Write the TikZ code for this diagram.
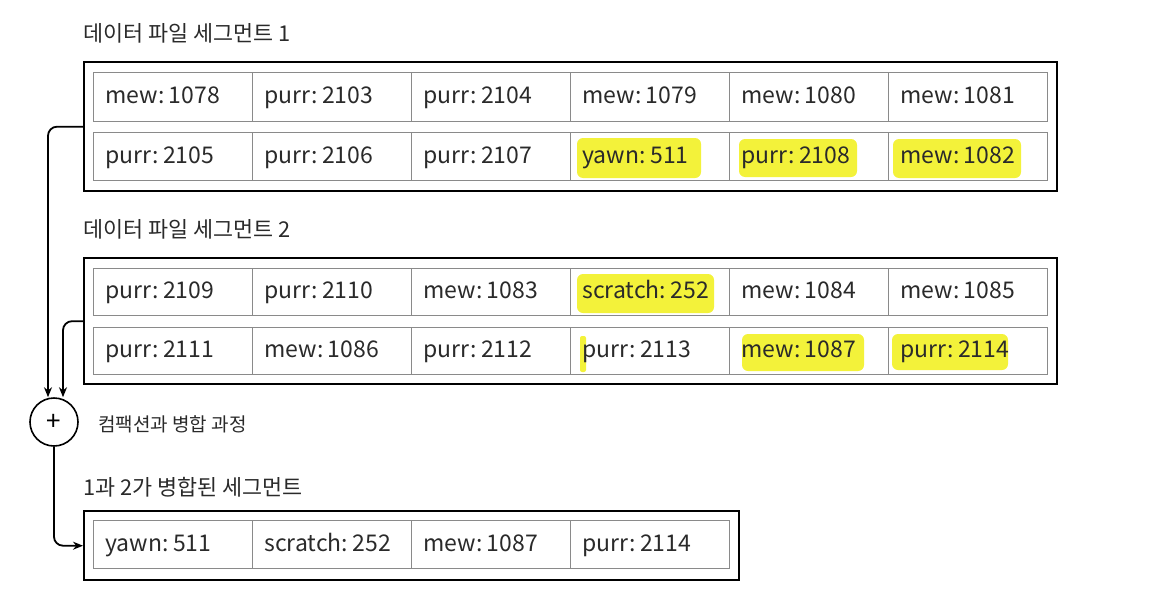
\documentclass[tikz,border=0pt]{standalone}
\usepackage{fontspec}
\setmainfont{Noto Sans CJK KR}
\usetikzlibrary{arrows.meta}

\definecolor{marker}{HTML}{F3F23A}
\definecolor{cellrule}{HTML}{8A8A8A}
\definecolor{ink}{HTML}{2A2A2A}

% key/value entry with a tight gap after the colon
\newcommand\kv[2]{#1:\kern4.5pt#2}

\tikzset{
  cell/.style={draw=cellrule, line width=0.9pt, anchor=north west,
    minimum width=159pt, text width=135pt, inner xsep=12pt, inner ysep=0pt,
    text height=17pt, text depth=3pt,
    align=left, text=ink, font=\fontsize{23}{26}\selectfont},
  segbox/.style={draw=black, line width=2.4pt, anchor=north west, inner sep=0pt},
  title/.style={anchor=base west, inner sep=0pt, text=ink, font=\fontsize{21.8}{24}\selectfont},
  note/.style={anchor=west, inner sep=0pt, text=ink, font=\fontsize{19}{22}\selectfont},
  merge/.style={circle, draw=black, line width=1.6pt, minimum size=48pt, inner sep=0pt,
    font=\fontsize{26}{26}\selectfont},
  flow/.style={draw=black, line width=1.8pt, rounded corners=9pt, -{Stealth[length=10pt,width=8pt]}},
  hl/.style={fill=marker, draw=none, rounded corners=6pt}
}

\begin{document}
\begin{tikzpicture}[x=1pt, y=-1pt]
  \useasboundingbox (0,0) rectangle (1166,608);

  % marker strokes behind the entries that survive the merge
  \fill[hl] (577,138) rectangle (701,178);
  \fill[hl] (739,139) rectangle (857,177);
  \fill[hl] (893,139) rectangle (1021,178);
  \fill[hl] (577,274) rectangle (714,313);
  \fill[hl] (742,334) rectangle (864,371);
  \fill[hl] (892,334) rectangle (1008,370);
  \fill[hl, rounded corners=2pt] (580,336) rectangle (586,372);

  % segment 1
  \node[title] (t1) at (83,41) {데이터 파일 세그먼트 1};
  \node[segbox, minimum width=973pt, minimum height=129pt] (seg1) at (83,61) {};
  \foreach \k/\v [count=\i from 0] in {mew/1078, purr/2103, purr/2104, mew/1079, mew/1080, mew/1081}
    \node[cell, minimum height=48.5pt] (s1a\i) at ({93+159*\i},72) {\kv{\k}{\v}};
  \foreach \k/\v [count=\i from 0] in {purr/2105, purr/2106, purr/2107, yawn/511, purr/2108, mew/1082}
    \node[cell, minimum height=48.5pt] (s1b\i) at ({93+159*\i},131.5) {\kv{\k}{\v}};

  % segment 2
  \node[title] (t2) at (83,237) {데이터 파일 세그먼트 2};
  \node[segbox, minimum width=973pt, minimum height=126pt] (seg2) at (83,257) {};
  \foreach \k/\v [count=\i from 0] in {purr/2109, purr/2110, mew/1083, scratch/252, mew/1084, mew/1085}
    \node[cell, minimum height=47pt] (s2a\i) at ({93+159*\i},268) {\kv{\k}{\v}};
  \foreach \k/\v [count=\i from 0] in {purr/2111, mew/1086, purr/2112, purr/2113, mew/1087, purr/2114}
    \node[cell, minimum height=47pt] (s2b\i) at ({93+159*\i},326.5) {\kv{\k}{\v}};

  % compaction and merge step
  \node[merge] (mrg) at (54,422) {+};
  \node[note] (mlabel) at (98,424) {컴팩션과 병합 과정};

  % merged segment
  \node[title] (t3) at (83,495) {1과 2가 병합된 세그먼트};
  \node[segbox, minimum width=655pt, minimum height=69pt] (seg3) at (83,510) {};
  \foreach \k/\v [count=\i from 0] in {yawn/511, scratch/252, mew/1087, purr/2114}
    \node[cell, minimum height=48pt] (s3a\i) at ({93+159*\i},520) {\kv{\k}{\v}};

  % connectors
  \draw[flow] (seg1.west) -| ([xshift=-6pt]mrg.north);
  \draw[flow] (seg2.west) -| ([xshift=9pt]mrg.north);
  \draw[flow] (mrg.south) |- (seg3.west);
\end{tikzpicture}
\end{document}
